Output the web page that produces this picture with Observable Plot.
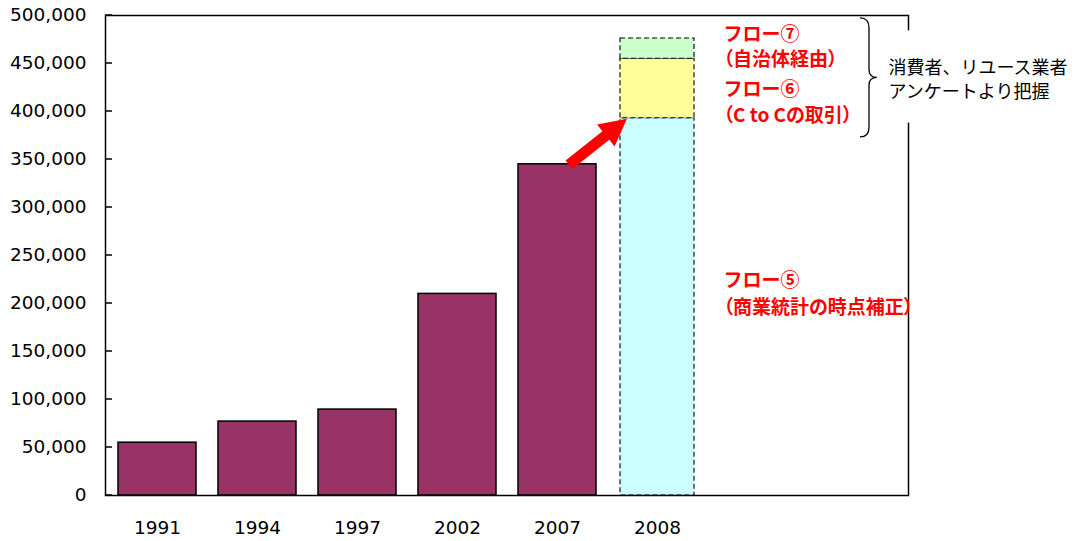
<!DOCTYPE html>
<html><head><meta charset="utf-8">
<script src="https://cdn.jsdelivr.net/npm/d3@7"></script>
<script src="https://cdn.jsdelivr.net/npm/@observablehq/plot@0.6"></script>
<style>
body{margin:0;background:#fff}
g[fill="red"] tspan:nth-of-type(2){font-feature-settings:"palt"}
</style>
</head><body><div id="chart"></div>
<script>
const years = ["1991","1994","1997","2002","2007"];
const values = [55000, 77000, 89500, 210000, 345000];
const stackYear = "2008";
const flowNames = ["フロー⑤","フロー⑥","フロー⑦"];
const flowValues = [393000, 62000, 21000];
const flowColors = ["#CCFFFF","#FFFF99","#CCFFCC"];
const xDomain = [...years, stackYear, "_e1", "_e2"];
const yTicks = d3.range(0, 500001, 50000);
const upperLabels = ["フロー⑦\n（自治体経由）", "フロー⑥\n（C to Cの取引）"];
const upperLabelY = [469000, 411500];
const lowerLabels = ["フロー⑤\n（商業統計の時点補正）"];
const lowerLabelY = [212000];
const noteText = ["消費者、リユース業者\nアンケートより把握"];
const noteY = [434500];
const braceRange = [497000, 373000];
const noteBoxRange = [484000, 388000];

const barData = years.map((yr, i) => ({year: yr, value: values[i]}));
const flowData = flowNames.map((n, i) => ({year: stackYear, name: n, value: flowValues[i], color: flowColors[i]}));

function overlay(index, scales, vals, dims) {
  const {x, y} = scales;
  const bw = x.bandwidth ? x.bandwidth() : 78;
  const g = d3.create("svg:g");
  const left = dims.marginLeft, right = dims.width - dims.marginRight;
  for (const t of yTicks) {
    g.append("line").attr("x1", left).attr("x2", left + 7)
      .attr("y1", y(t)).attr("y2", y(t)).attr("stroke", "black").attr("stroke-width", 1.5);
  }
  const x0 = x(years[4]) + bw / 2 + 12, y0 = y(values[4]) + 1;
  const x1 = x(stackYear) + 9, y1 = y(flowValues[0]) + 1;
  const dx = x1 - x0, dy = y1 - y0, L = Math.hypot(dx, dy);
  const ux = dx / L, uy = dy / L, nx = -uy, ny = ux;
  const hl = 27, hw = 14, sw = 5.5;
  const bx = x1 - ux * hl, by = y1 - uy * hl;
  const pts = [[x0 + nx * sw, y0 + ny * sw], [bx + nx * sw, by + ny * sw], [bx + nx * hw, by + ny * hw], [x1, y1],
               [bx - nx * hw, by - ny * hw], [bx - nx * sw, by - ny * sw], [x0 - nx * sw, y0 - ny * sw]];
  g.append("polygon").attr("points", pts.map(p => p.join(",")).join(" ")).attr("fill", "#FF0000");
  const bx0 = right - 48, bxv = bx0 + 9, bxt = bx0 + 17;
  const t0 = y(braceRange[0]), t1 = y(braceRange[1]), tm = (t0 + t1) / 2;
  g.append("path")
    .attr("d", `M${bx0},${t0} Q${bxv},${t0} ${bxv},${t0 + 10} L${bxv},${tm - 8} Q${bxv},${tm} ${bxt},${tm} Q${bxv},${tm} ${bxv},${tm + 8} L${bxv},${t1 - 10} Q${bxv},${t1} ${bx0},${t1}`)
    .attr("fill", "none").attr("stroke", "black").attr("stroke-width", 1.3);
  g.append("rect").attr("x", bx0 + 22).attr("width", 200)
    .attr("y", y(noteBoxRange[0])).attr("height", y(noteBoxRange[1]) - y(noteBoxRange[0]))
    .attr("fill", "white");
  return g.node();
}

const redText = {x: () => stackYear, text: d => d, dx: 66, textAnchor: "start", lineAnchor: "middle",
  fill: "red", fontWeight: "bold", fontSize: 19, fontFamily: "Noto Sans CJK JP"};

const chart = Plot.plot({
  width: 1079, height: 541,
  marginTop: 15, marginBottom: 46, marginLeft: 105, marginRight: 171,
  style: {fontFamily: "DejaVu Sans", fontSize: "18.5px", background: "white", overflow: "visible"},
  x: {domain: xDomain, paddingInner: 0.225, paddingOuter: 0.1, label: null},
  y: {domain: [0, 500000], label: null},
  color: {type: "identity"},
  marks: [
    Plot.barY(barData, {x: "year", y: "value", fill: "#993366", stroke: "black", strokeWidth: 1.5}),
    Plot.barY(flowData, {x: "year", y: "value", fill: "color", stroke: "black", strokeWidth: 1.1, strokeDasharray: "5,3", insetLeft: 2, insetRight: 2}),
    Plot.frame({stroke: "black", strokeWidth: 1.5}),
    Plot.axisY({ticks: yTicks, tickSize: 0, tickPadding: 19, tickFormat: d3.format(","), label: null, fill: "black"}),
    Plot.axisX({tickSize: 0, tickPadding: 25, tickFormat: d => d.startsWith("_") ? "" : d, label: null, fill: "black"}),
    overlay,
    Plot.text(upperLabels, {...redText, y: (d, i) => upperLabelY[i], lineHeight: 1.36}),
    Plot.text(lowerLabels, {...redText, y: (d, i) => lowerLabelY[i], lineHeight: 1.42}),
    Plot.text(noteText, {x: () => stackYear, y: (d, i) => noteY[i], text: d => d, dx: 231, textAnchor: "start", lineAnchor: "middle",
      lineHeight: 1.333, fill: "black", fontSize: 18, fontFamily: "Noto Sans CJK JP"})
  ]
});
document.getElementById("chart").appendChild(chart);
</script>
</body></html>
